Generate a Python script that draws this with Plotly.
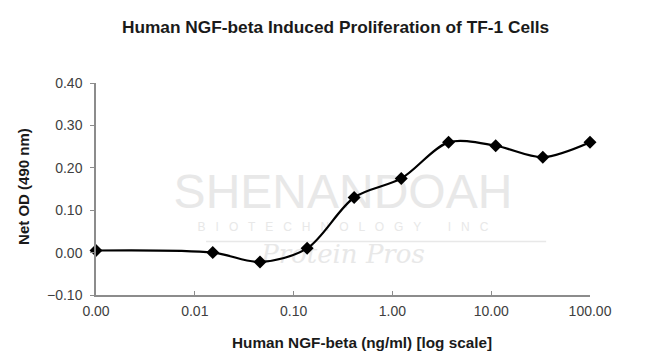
import plotly.graph_objects as go

# Data
concentration = [0.001, 0.0152, 0.0457, 0.137, 0.41, 1.23, 3.7, 11.1, 33.3, 100.0]
net_od = [0.005, 0.0, -0.022, 0.01, 0.13, 0.175, 0.26, 0.252, 0.225, 0.26]
x_tickvals = [0.001, 0.01, 0.1, 1, 10, 100]
x_ticktext = ["0.00", "0.01", "0.10", "1.00", "10.00", "100.00"]
y_tickvals = [-0.1, 0.0, 0.1, 0.2, 0.3, 0.4]

# Watermark (decorative background text)
wm_text = ["SHENANDOAH",
           "B   I   O   T   E   C   H   N   O   L   O   G   Y        I   N   C",
           "<i>Protein Pros</i>"]
wm_x = [0.316, 0.316, 0.316]
wm_y = [0.133, 0.057, -0.01]
wm_size = [48, 12, 26]
wm_font = ["Liberation Sans, Arial, sans-serif", "Liberation Sans, Arial, sans-serif", "DejaVu Serif, serif"]

font = "Liberation Sans, Arial, sans-serif"
wm = "#e8e8e8"

fig = go.Figure()
fig.add_trace(go.Scatter(
    x=wm_x, y=wm_y, mode="text", text=wm_text,
    textfont=dict(family=wm_font, size=wm_size, color=wm),
    hoverinfo="skip", showlegend=False,
))
fig.add_trace(go.Scatter(
    x=concentration, y=net_od, mode="lines+markers",
    line=dict(color="black", width=2.2, shape="spline", smoothing=0.9),
    marker=dict(symbol="diamond", size=10, color="black"),
    showlegend=False, cliponaxis=False,
))

fig.add_shape(type="line", xref="x", yref="y", x0=0.013, x1=36, y0=0.026, y1=0.026,
              line=dict(color=wm, width=1.5), layer="below")

# Axis titles
fig.add_annotation(text="<b>Human NGF-beta (ng/ml) [log scale]</b>", xref="paper", yref="paper",
                   x=0.538, y=-0.226, xanchor="center", yanchor="middle", showarrow=False,
                   font=dict(family=font, size=15.3, color="#1a1a1a"))
fig.add_annotation(text="<b>Net OD (490 nm)</b>", xref="paper", yref="paper",
                   x=-0.148, y=0.514, xanchor="center", yanchor="middle", showarrow=False,
                   textangle=-90, font=dict(family=font, size=15, color="#1a1a1a"))

fig.update_layout(
    width=650, height=364,
    margin=dict(l=88, r=68, t=75, b=77, autoexpand=False),
    paper_bgcolor="white", plot_bgcolor="white",
    title=dict(text="<b>Human NGF-beta Induced Proliferation of TF-1 Cells</b>",
               x=0.504, xanchor="center", y=1 - 13 / 364, yanchor="top",
               font=dict(family=font, size=17.3, color="#1a1a1a")),
    font=dict(family=font, color="#404040", size=13),
)
fig.update_xaxes(
    type="log", range=[-3, 2], tickvals=x_tickvals, ticktext=x_ticktext,
    showgrid=False, zeroline=False, showline=True, linecolor="#8c8c8c", linewidth=1.5,
    ticks="inside", ticklen=4, tickcolor="#8c8c8c", automargin=False,
    tickfont=dict(size=14, color="#404040"), ticklabelstandoff=2,
)
fig.update_yaxes(
    range=[-0.1, 0.4], tickvals=y_tickvals, tickformat=".2f",
    showgrid=False, zeroline=False, showline=True, linecolor="#8c8c8c", linewidth=1.5,
    ticks="outside", ticklen=4, tickcolor="#8c8c8c", automargin=False,
    tickfont=dict(size=14, color="#404040"), ticklabelstandoff=5,
)

fig.write_html("out.html")
